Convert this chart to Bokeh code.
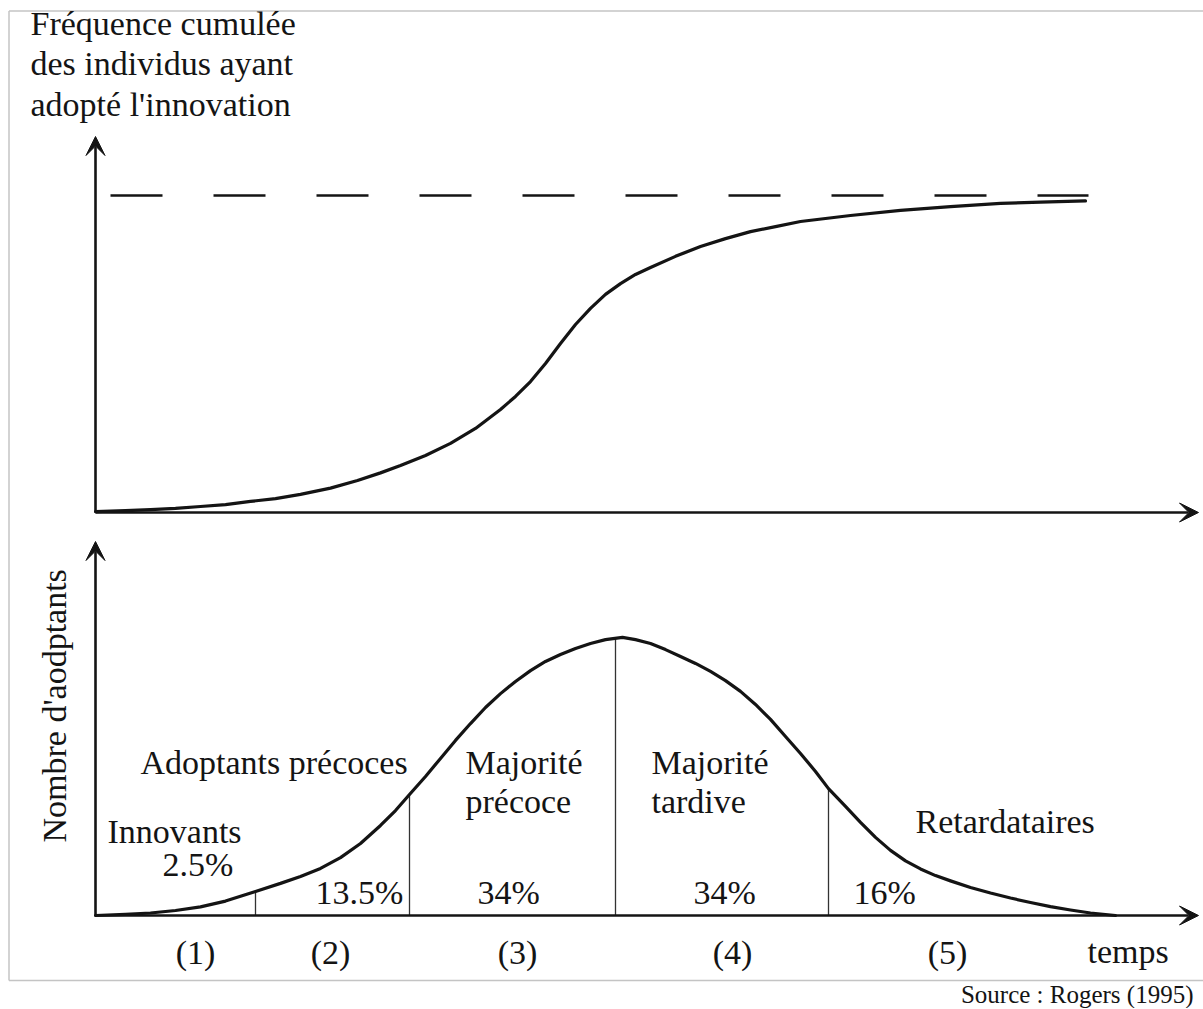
import math
from bokeh.plotting import figure
from bokeh.models import Range1d, Arrow, VeeHead
from bokeh.core.properties import value
from bokeh.embed import file_html
from bokeh.resources import INLINE

# ---------------- data ----------------
# upper panel: cumulative share of adopters (% of the asymptote) over time
cum_time = [0.0, 3.0, 5.5, 8.0, 10.5, 13.0, 15.5, 18.0, 20.5, 23.5, 26.2,
            28.5, 30.5, 33.0, 35.5, 38.0, 40.5, 42.0, 43.5, 45.0, 46.5,
            48.0, 49.5, 51.0, 52.5, 54.0, 55.5, 58.0, 60.5, 63.0, 65.5,
            68.0, 70.5, 75.5, 80.5, 85.5, 90.5, 94.5, 99.0]
cum_share = [0.3, 0.6, 0.9, 1.3, 1.9, 2.5, 3.5, 4.4, 5.7, 7.7, 10.1,
             12.5, 14.8, 18.0, 21.8, 26.5, 32.5, 36.6, 41.3, 47.0, 53.3,
             59.3, 64.4, 68.8, 72.2, 75.1, 77.3, 80.8, 83.9, 86.4, 88.6,
             90.2, 91.8, 93.7, 95.3, 96.5, 97.5, 97.9, 98.3]
asymptote_level = 100.0
asymptote_span = [1.5, 99.3]

# lower panel: number of adopters over time (peak = 100)
adopt_time = [0.0, 3.0, 5.5, 8.0, 10.5, 13.0, 16.0, 18.5, 20.5, 22.5, 24.5,
              26.5, 28.5, 30.0, 31.4, 33.0, 34.5, 36.0, 37.5, 39.0, 40.5,
              42.0, 43.5, 45.0, 46.5, 48.0, 49.5, 51.0, 52.7, 54.0, 55.5,
              57.0, 58.5, 60.0, 61.5, 63.0, 64.5, 66.0, 67.5, 69.0, 70.5,
              72.0, 73.3, 75.0, 76.5, 78.0, 79.5, 81.0, 82.5, 84.0, 85.5,
              87.5, 89.5, 91.5, 93.5, 95.5, 97.5, 99.5, 102.0]
adopt_count = [0.0, 0.4, 0.9, 1.8, 3.1, 5.2, 8.7, 11.6, 14.1, 17.0, 20.9,
               26.0, 32.5, 37.9, 43.7, 50.2, 56.7, 63.2, 69.3, 75.1, 80.1,
               84.5, 88.4, 91.7, 94.2, 96.4, 98.2, 99.6, 100.4, 99.6, 98.2,
               96.0, 93.5, 91.0, 88.1, 84.8, 80.9, 76.2, 70.8, 64.6, 58.5,
               52.0, 45.8, 39.4, 33.6, 28.2, 23.5, 19.7, 16.8, 14.4, 12.5,
               10.1, 8.1, 6.3, 4.7, 3.2, 2.0, 0.9, 0.0]
boundary_time = [16.0, 31.4, 52.0, 73.3]
boundary_height = [8.7, 43.9, 100.2, 45.8]

category_names = ["Innovants", "Adoptants précoces", "Majorité\nprécoce",
                  "Majorité\ntardive", "Retardataires"]
category_shares = ["2.5%", "13.5%", "34%", "34%", "16%"]
phase_labels = ["(1)", "(2)", "(3)", "(4)", "(5)"]
upper_title = ["Fréquence cumulée", "des individus ayant", "adopté l'innovation"]
lower_title = "Nombre d'aodptants"
time_label = "temps"
source_label = "Source : Rogers (1995)"

# ---------------- layout ----------------
W, H = 1203, 1008
X0, KX = 95, 10.0      # page x of t=0, px per time unit
Y1, KY1 = 512, 3.17    # upper panel baseline, px per %
Y2, KY2 = 915, 2.77    # lower panel baseline, px per unit

def sx(px):
    return (px - X0) / KX

def sy(py):
    return (Y1 - py) / KY1

def sy2(py):
    return (Y2 - py) / KY2

INK = "#141414"
FONT = value("Liberation Serif")

p = figure(width=W, height=H,
           x_range=Range1d(sx(0), sx(W)),
           y_range=Range1d(sy(H), sy(0)),
           x_axis_location=None, y_axis_location=None,
           output_backend="svg", toolbar_location=None, min_border=0)
p.extra_y_ranges = {"adopt": Range1d(sy2(H), sy2(0))}
p.xgrid.visible = False
p.ygrid.visible = False
p.outline_line_color = None
p.background_fill_color = "white"
p.border_fill_color = "white"

# frame
p.multi_line(xs=[[sx(8.5), sx(8.5)], [sx(8.5), sx(W)], [sx(8.5), sx(W)]],
             ys=[[sy(10.5), sy(980)], [sy(10.5), sy(10.5)], [sy(980), sy(980)]],
             line_color="#c4c4c4", line_width=1.5)

# axes with arrows
def axis_arrow(x0, y0, x1, y1, rng="default"):
    head = VeeHead(size=19, fill_color=INK, line_color=INK, line_width=1)
    p.add_layout(Arrow(end=head, x_start=x0, y_start=y0, x_end=x1, y_end=y1,
                       line_color=INK, line_width=2.6, y_range_name=rng))

axis_arrow(0, 0, 0, sy(136))
axis_arrow(0, 0, sx(1198), 0)
axis_arrow(0, 0, 0, sy2(541), "adopt")
axis_arrow(0, 0, sx(1198), 0, "adopt")

# upper panel
p.line(x=asymptote_span, y=[asymptote_level, asymptote_level],
       line_color=INK, line_width=2.6, line_dash="52 51")
p.line(x=cum_time, y=cum_share, line_color=INK, line_width=3.2,
       line_join="round", line_cap="round")

# lower panel
p.segment(x0=boundary_time, y0=[0] * len(boundary_time),
          x1=boundary_time, y1=boundary_height,
          line_color="#333333", line_width=1.3, y_range_name="adopt")
p.line(x=adopt_time, y=adopt_count, line_color=INK, line_width=3.2,
       line_join="round", line_cap="round", y_range_name="adopt")

FS = 34
def txt(px, py, s, align="left", size=FS, angle=0.0):
    # empirical correction of the rendered alphabetic baseline
    shift = 11.0 * size / 33.0
    if angle:
        x, y = px - shift, py
    else:
        x, y = px, py - shift
    p.text(x=[sx(x)], y=[sy(y)], text=[s], angle=angle,
           text_font=FONT, text_font_size=f"{size}px", text_color=INK,
           text_align=align, text_baseline="alphabetic")

# upper title (3 lines)
for i, line in enumerate(upper_title):
    txt(30, 34 + i * 40.5, line)

# lower y label
txt(65, 842, lower_title, angle=math.pi / 2)

# category names
txt(107, 842, category_names[0])
txt(140, 773, category_names[1])
for i, line in enumerate(category_names[2].split("\n")):
    txt(465, 773 + i * 39, line)
for i, line in enumerate(category_names[3].split("\n")):
    txt(651, 773 + i * 39, line)
txt(915, 832, category_names[4])

# shares
share_pos = [(162, 875), (315, 903), (477, 903), (693, 903), (853, 903)]
for (x, y), s in zip(share_pos, category_shares):
    txt(x, y, s)

# phase numbers
for x, s in zip([195, 330, 517, 732, 947], phase_labels):
    txt(x, 963, s, align="center")

txt(1087, 962, time_label)
txt(1193, 1002, source_label, align="right", size=25)

open("out.html", "w").write(file_html(p, INLINE))
